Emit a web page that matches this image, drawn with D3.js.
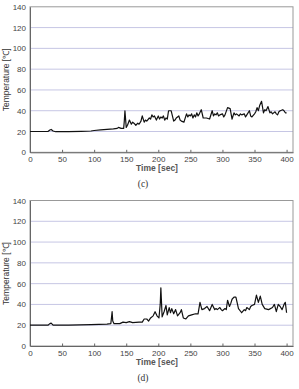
<!DOCTYPE html>
<html>
<head>
<meta charset="utf-8">
<script src="https://cdn.jsdelivr.net/npm/d3@7"></script>
<style>
  body { margin: 0; background: #fff; }
  svg { display: block; }
  .tick text { font-family: Arial, "Liberation Sans", sans-serif; font-size: 8px; fill: #444; }
</style>
</head>
<body>
<svg id="chart" width="299" height="389"></svg>
<script>
var xTicks = [0, 50, 100, 150, 200, 250, 300, 350, 400];
var yTicks = [0, 20, 40, 60, 80, 100, 120, 140];

// (c) time [sec] / temperature
var timeC = [0, 28, 31, 33, 36, 40, 60, 80, 95, 100, 110, 120, 130, 136, 138, 142, 146, 147, 148, 150, 152, 155, 158, 160, 162, 165, 168, 170, 173, 175, 178, 180, 182, 186, 188, 190, 192, 194, 197, 200, 202, 204, 206, 208, 210, 212, 214, 216, 220, 222, 224, 226, 228, 232, 234, 236, 240, 244, 246, 248, 250, 252, 254, 256, 258, 260, 262, 264, 267, 270, 275, 280, 284, 286, 288, 290, 292, 294, 296, 300, 302, 304, 308, 312, 315, 318, 320, 322, 326, 328, 330, 334, 336, 338, 342, 344, 346, 350, 352, 354, 356, 358, 361, 364, 366, 368, 371, 374, 376, 378, 382, 384, 386, 388, 390, 394, 396, 398, 400];
var tempC = [20, 20, 21.5, 22, 20.5, 19.8, 19.8, 20.2, 20.5, 21, 21.5, 22, 22.5, 23, 24, 23, 23, 30, 40, 24, 26, 31, 27, 29, 28, 26, 28, 27, 30, 35, 29, 31, 30, 33, 32, 36, 34, 35, 31, 35, 32, 34, 33, 35, 31, 33, 32, 40, 40, 35, 30, 31, 33, 35, 31, 30, 29, 37, 34, 36, 35, 37, 33, 36, 34, 38, 35, 37, 41, 33, 33, 32, 40, 35, 37, 36, 38, 35, 36, 37, 34, 36, 43, 42, 32, 38, 36, 37, 35, 37, 36, 37, 34, 36, 40, 35, 34, 37, 39, 43, 40, 45, 49, 38, 41, 40, 44, 38, 39, 37, 39, 37, 36, 39, 40, 41, 40, 38, 38];

// (d) time [sec] / temperature
var timeD = [0, 28, 31, 33, 36, 60, 95, 120, 126, 127, 128, 129, 131, 140, 145, 150, 155, 160, 170, 175, 178, 182, 185, 188, 192, 195, 198, 201, 203, 204, 206, 209, 212, 214, 217, 219, 221, 224, 227, 230, 234, 236, 239, 243, 247, 252, 258, 262, 265, 268, 272, 276, 280, 284, 288, 290, 292, 296, 298, 300, 304, 306, 308, 311, 313, 315, 318, 321, 325, 330, 334, 336, 338, 342, 344, 346, 350, 353, 356, 359, 362, 366, 372, 378, 381, 384, 387, 390, 393, 396, 398, 400];
var tempD = [20, 20, 21.5, 22, 20, 20, 20.5, 21, 21.5, 27, 33, 24, 21.5, 21.5, 23, 22.5, 23.5, 22.5, 23, 23, 26, 26, 24, 27, 29, 33, 29, 27, 40, 56, 28, 33, 39, 30, 37, 32, 36, 31, 35, 29, 32, 35, 27, 26, 29, 30, 31, 31, 42, 35, 36, 38, 34, 40, 35, 36, 35, 37, 35, 34, 36, 35, 44, 38, 41, 45, 47, 47, 36, 32, 35, 34, 37, 35, 38, 39, 40, 49, 42, 48, 40, 36, 35, 37, 40, 33, 40, 38, 35, 40, 42, 32];

var svg = d3.select("#chart");

function drawPanel(top, times, temps, caption) {
  var x = d3.scaleLinear().domain([0, 410]).range([30, 293]);
  var y = d3.scaleLinear().domain([0, 140]).range([top + 145.5, top]);
  var g = svg.append("g");

  // gridlines
  g.selectAll(".grid")
    .data(yTicks.slice(1, -1))
    .enter()
    .append("line")
    .attr("x1", x(0)).attr("x2", x(410))
    .attr("y1", function (d) { return y(d); })
    .attr("y2", function (d) { return y(d); })
    .style("stroke", "#c6c6e4")
    .style("stroke-width", 1);

  // frame
  g.append("rect")
    .attr("x", x(0)).attr("y", y(140))
    .attr("width", x(410) - x(0)).attr("height", y(0) - y(140))
    .style("fill", "none")
    .style("stroke", "#999")
    .style("stroke-width", 1);

  var xAxis = g.append("g")
    .attr("transform", "translate(0," + y(0) + ")")
    .call(d3.axisBottom(x).tickValues(xTicks).tickSizeInner(-2.5).tickSizeOuter(0).tickPadding(4));
  xAxis.select(".domain").style("stroke", "#666");
  xAxis.selectAll(".tick line").style("stroke", "#666");

  var yAxis = g.append("g")
    .attr("transform", "translate(" + x(0) + ",0)")
    .call(d3.axisLeft(y).tickValues(yTicks).tickSize(0).tickPadding(4));
  yAxis.select(".domain").style("stroke", "#666");

  // series
  var line = d3.line()
    .x(function (d) { return x(d[0]); })
    .y(function (d) { return y(d[1]); });

  g.append("path")
    .datum(d3.zip(times, temps))
    .attr("d", line)
    .style("fill", "none")
    .style("stroke", "#111")
    .style("stroke-width", 1.2)
    .style("stroke-linejoin", "round");

  g.append("text")
    .attr("x", 157).attr("y", y(0) + 19)
    .attr("text-anchor", "middle")
    .style("font-family", "Arial, 'Liberation Sans', sans-serif")
    .style("font-size", "8.5px")
    .style("font-weight", "bold")
    .style("fill", "#555")
    .text("Time [sec]");

  g.append("text")
    .attr("transform", "translate(9," + (top + 73) + ") rotate(-90)")
    .attr("text-anchor", "middle")
    .style("font-family", "Arial, 'Liberation Sans', sans-serif")
    .style("font-size", "8.5px")
    .style("fill", "#333")
    .text("Temperature [\u2103]");

  g.append("text")
    .attr("x", 143).attr("y", y(0) + 35)
    .attr("text-anchor", "middle")
    .style("font-family", "'Liberation Serif', 'DejaVu Serif', serif")
    .style("font-size", "9.5px")
    .style("fill", "#333")
    .text(caption);
}

drawPanel(6.8, timeC, tempC, "(c)");
drawPanel(200.5, timeD, tempD, "(d)");
</script>
</body>
</html>
